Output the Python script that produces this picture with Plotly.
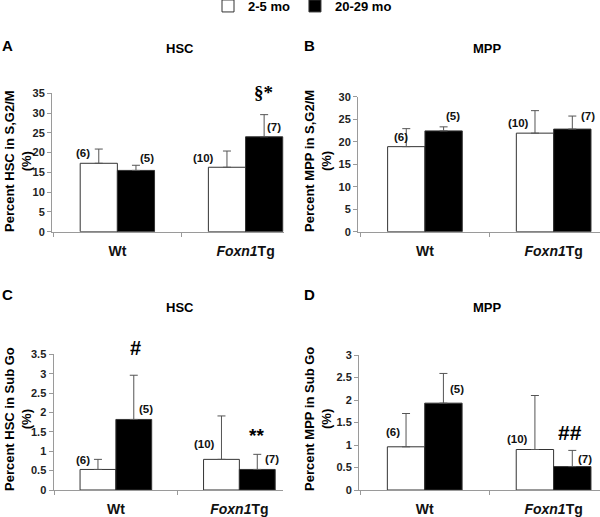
import plotly.graph_objects as go

# ---------------- data ----------------
categories = ["Wt", "<i>Foxn1</i>Tg"]
age_groups = ["2-5 mo", "20-29 mo"]

# Panel A: HSC in S,G2/M (%)
hsc_cycle_young = [17.3, 16.3]
hsc_cycle_old = [15.5, 24.0]
hsc_cycle_young_err = [3.6, 4.1]
hsc_cycle_old_err = [1.3, 5.6]

# Panel B: MPP in S,G2/M (%)
mpp_cycle_young = [18.9, 21.9]
mpp_cycle_old = [22.4, 22.8]
mpp_cycle_young_err = [4.0, 5.0]
mpp_cycle_old_err = [0.9, 2.9]

# Panel C: HSC in Sub Go (%)
hsc_subgo_young = [0.53, 0.79]
hsc_subgo_old = [1.82, 0.53]
hsc_subgo_young_err = [0.26, 1.12]
hsc_subgo_old_err = [1.14, 0.39]

# Panel D: MPP in Sub Go (%)
mpp_subgo_young = [0.96, 0.90]
mpp_subgo_old = [1.93, 0.52]
mpp_subgo_young_err = [0.74, 1.20]
mpp_subgo_old_err = [0.66, 0.36]

n_young = [6, 10]
n_old = [5, 7]

panel_letters = ["A", "B", "C", "D"]
panel_titles = ["HSC", "MPP", "HSC", "MPP"]
y_titles = ["Percent HSC in S,G2/M<br>(%)", "Percent MPP in S,G2/M<br>(%)",
            "Percent HSC in Sub Go<br>(%)", "Percent MPP in Sub Go<br>(%)"]
y_max = [35, 30, 3.5, 3]
y_dtick = [5, 5, 0.5, 0.5]
# significance marks: (panel index, category index, text)
sig_marks = [(0, 1, "§*"), (2, 0, "#"), (2, 1, "**"), (3, 1, "##")]

# ---------------- styling / layout ----------------
W, H = 600, 517
FONT = "Liberation Sans"
panels = [
    (hsc_cycle_young, hsc_cycle_old, hsc_cycle_young_err, hsc_cycle_old_err),
    (mpp_cycle_young, mpp_cycle_old, mpp_cycle_young_err, mpp_cycle_old_err),
    (hsc_subgo_young, hsc_subgo_old, hsc_subgo_young_err, hsc_subgo_old_err),
    (mpp_subgo_young, mpp_subgo_old, mpp_subgo_young_err, mpp_subgo_old_err),
]
# pixel geometry of each plot area: (x0, x1, ytop, ybottom), x range
geom = [
    (52, 284, 93.3, 231.7, [-0.51, 1.3]),
    (358, 600, 96.7, 231.7, [-0.52, 1.36]),
    (53.5, 282.6, 354.3, 490, [-0.505, 1.35]),
    (359, 600, 355, 490, [-0.51, 1.36]),
]
# label offsets (xshift px from category centre, yshift px above bar top)
n_young_shift = [[(-34, 10), (-42, 9)], [(-24, 10), (-35, 10)],
                 [(-33, 9), (-35, 15)], [(-32, 15), (-36, 11)]]
n_old_shift = [[(30, 12), (28, 10)], [(28, 15), (34, 13)],
               [(30, 10), (33, 10)], [(32, 14), (31, 8)]]
sig_shift = {(0, 1): (18, 22), (2, 0): (20, 27), (2, 1): (17, 19), (3, 1): (16, 18)}
sig_font = {(0, 1): dict(family="Liberation Serif", size=19),
            (2, 0): dict(family=FONT, size=20),
            (2, 1): dict(family=FONT, size=19),
            (3, 1): dict(family=FONT, size=21)}

AXIS_GRAY = "#9a9a9a"
fig = go.Figure()
annotations = []


def paper_text(px, py, text, font, angle=0):
    return dict(x=px / W, y=1 - py / H, xref="paper", yref="paper",
                xanchor="center", yanchor="middle", text=text,
                showarrow=False, textangle=angle, font=font)


for i, (young, old, young_err, old_err) in enumerate(panels):
    sfx = "" if i == 0 else str(i + 1)
    xa, ya = "x" + sfx, "y" + sfx
    for vals, errs, name, fill in [(young, young_err, age_groups[0], "white"),
                                   (old, old_err, age_groups[1], "black")]:
        fig.add_trace(go.Bar(
            x=categories, y=vals, name=name, xaxis=xa, yaxis=ya,
            marker=dict(color=fill, line=dict(color="#333333", width=1)),
            error_y=dict(type="data", array=errs, arrayminus=[0] * len(errs),
                         symmetric=False, color="#555555", thickness=1, width=4),
            showlegend=(i == 0), legendgroup=name, hoverinfo="skip"))
    x0, x1, yt, yb, xr = geom[i]
    fig.layout["xaxis" + sfx] = dict(
        domain=[x0 / W, x1 / W], anchor=ya, range=xr, type="category",
        showline=True, linecolor=AXIS_GRAY, linewidth=1, ticks="outside",
        tickson="boundaries", ticklen=4, tickcolor=AXIS_GRAY,
        ticklabelstandoff=6, automargin=False,
        tickfont=dict(family=FONT, size=14, color="#111", weight="bold"),
        showgrid=False, zeroline=False, fixedrange=True)
    fig.layout["yaxis" + sfx] = dict(
        domain=[1 - yb / H, 1 - yt / H], anchor=xa, range=[0, y_max[i]],
        dtick=y_dtick[i], showline=True, linecolor=AXIS_GRAY, linewidth=1,
        ticks="outside", ticklen=4, tickcolor=AXIS_GRAY, automargin=False,
        tickfont=dict(family=FONT, size=11, color="#222", weight="bold"),
        showgrid=False, zeroline=False, fixedrange=True)

    # sample size labels
    for j in range(len(categories)):
        for n, v, (dx, dy) in [(n_young[j], young[j], n_young_shift[i][j]),
                               (n_old[j], old[j], n_old_shift[i][j])]:
            annotations.append(dict(
                x=j, y=v, xref=xa, yref=ya, text=f"({n})", showarrow=False,
                xanchor="center", yanchor="middle", xshift=dx, yshift=dy,
                font=dict(family=FONT, size=11.5, color="#111", weight="bold")))

    # panel letter, title, y-title (pixel positions converted to paper)
    lx = 7 if i % 2 == 0 else 309
    ly = 45 if i < 2 else 294
    annotations.append(paper_text(lx, ly, panel_letters[i],
                                  dict(family=FONT, size=15, color="#000", weight="bold")))
    tx = 180 if i % 2 == 0 else 487
    ty = 48.5 if i < 2 else 307
    annotations.append(paper_text(tx, ty, panel_titles[i],
                                  dict(family=FONT, size=13, color="#000", weight="bold")))
    yx = 18 if i % 2 == 0 else 318
    yy = 161 if i < 2 else 419
    annotations.append(paper_text(yx, yy, y_titles[i],
                                  dict(family=FONT, size=13, color="#000", weight="bold"),
                                  angle=-90))

# significance marks above error bars of old group
for (p, c, txt) in sig_marks:
    sfx = "" if p == 0 else str(p + 1)
    young, old, young_err, old_err = panels[p]
    dx, dy = sig_shift[(p, c)]
    f = dict(sig_font[(p, c)])
    f.update(color="#000", weight="bold")
    annotations.append(dict(x=c, y=old[c] + old_err[c], xref="x" + sfx, yref="y" + sfx,
                            xanchor="center", yanchor="middle",
                            text=txt, showarrow=False, xshift=dx, yshift=dy, font=f))

fig.update_layout(
    width=W, height=H,
    margin=dict(l=0, r=0, t=0, b=0, pad=0, autoexpand=False),
    paper_bgcolor="white", plot_bgcolor="white",
    barmode="group", bargap=0.42, bargroupgap=0,
    annotations=annotations,
    legend=dict(orientation="h", x=208 / W, y=1 + 9 / H, xanchor="left", yanchor="top",
                font=dict(family=FONT, size=13, color="#000", weight="bold"),
                itemwidth=30, bgcolor="rgba(0,0,0,0)", traceorder="normal"),
    showlegend=True,
)

fig.write_html("out.html", config={"displayModeBar": False},
               post_script="document.body.style.margin='0';document.body.style.padding='0';")
